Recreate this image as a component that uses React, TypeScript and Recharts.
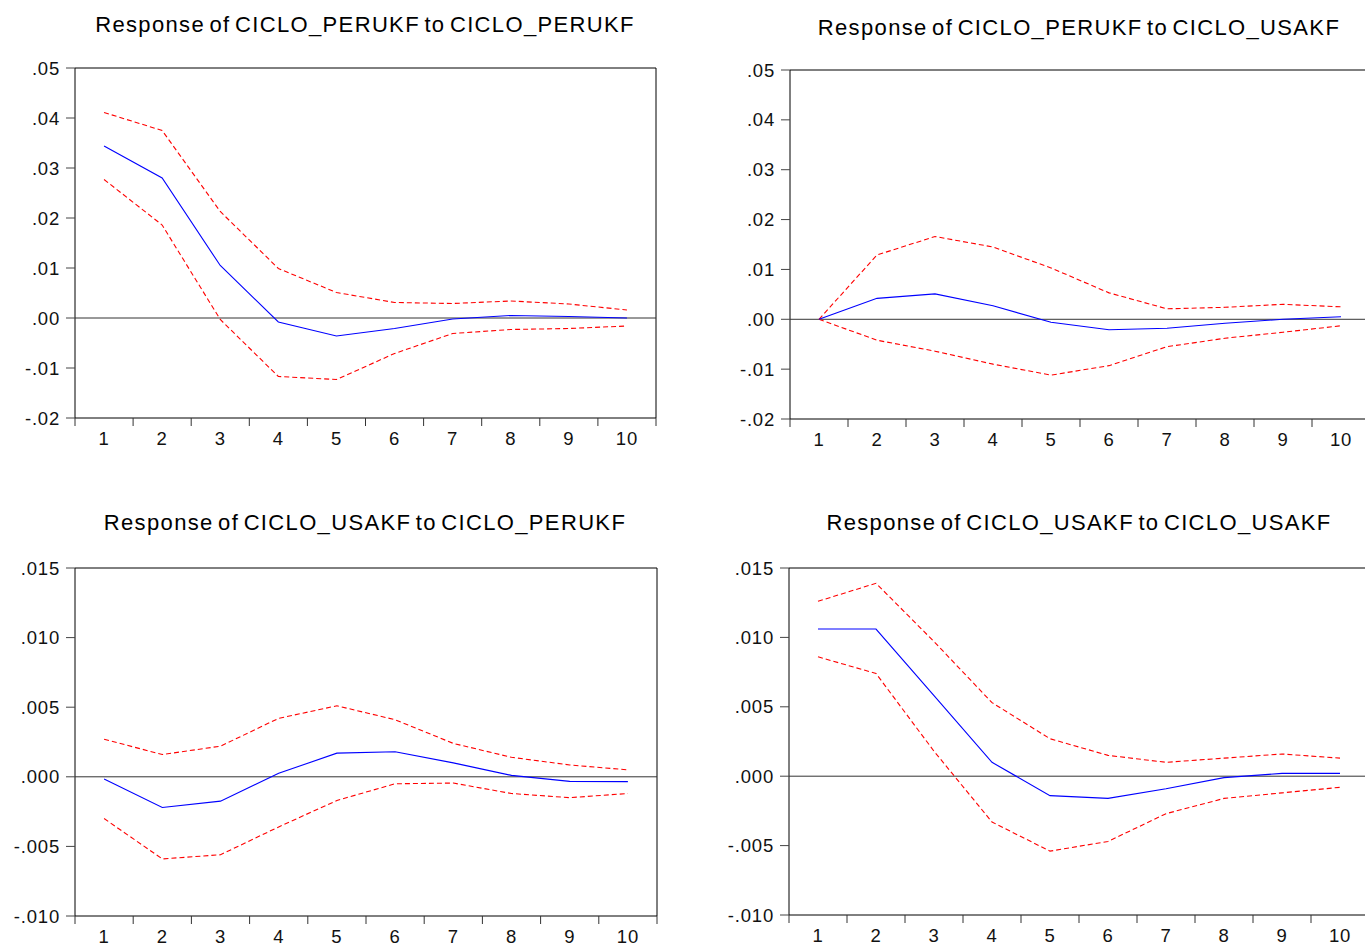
import React from "react";
import { LineChart, Line, XAxis, YAxis, ReferenceLine, ReferenceArea } from "recharts";

// ---------- data ----------
const horizons = [1, 2, 3, 4, 5, 6, 7, 8, 9, 10];

const perPerMid = [0.0344, 0.028, 0.0105, -0.0008, -0.0036, -0.0021, -0.0002, 0.0005, 0.0003, 0.0];
const perPerUp = [0.0411, 0.0375, 0.0213, 0.0099, 0.0051, 0.0031, 0.0029, 0.0034, 0.0028, 0.0016];
const perPerLo = [0.0277, 0.0186, -0.0003, -0.0117, -0.0123, -0.0071, -0.0031, -0.0023, -0.0021, -0.0016];

const perUsaMid = [0.0, 0.0042, 0.0051, 0.0027, -0.0006, -0.0021, -0.0018, -0.0008, 0.0, 0.0005];
const perUsaUp = [0.0, 0.0129, 0.0166, 0.0145, 0.0103, 0.0053, 0.0021, 0.0024, 0.003, 0.0025];
const perUsaLo = [0.0, -0.0042, -0.0064, -0.009, -0.0112, -0.0093, -0.0055, -0.0038, -0.0026, -0.0013];

const usaPerMid = [-0.00015, -0.0022, -0.00175, 0.00025, 0.0017, 0.0018, 0.001, 0.0001, -0.00033, -0.00035];
const usaPerUp = [0.0027, 0.0016, 0.0022, 0.0042, 0.0051, 0.0041, 0.0024, 0.0014, 0.00085, 0.0005];
const usaPerLo = [-0.003, -0.0059, -0.0056, -0.0036, -0.0017, -0.0005, -0.00045, -0.0012, -0.0015, -0.0012];

const usaUsaMid = [0.0106, 0.0106, 0.0058, 0.001, -0.0014, -0.0016, -0.0009, -0.0001, 0.0002, 0.0002];
const usaUsaUp = [0.0126, 0.0139, 0.0097, 0.0053, 0.0027, 0.0015, 0.001, 0.0013, 0.0016, 0.0013];
const usaUsaLo = [0.0086, 0.0074, 0.0018, -0.0033, -0.0054, -0.0047, -0.0027, -0.0016, -0.0012, -0.0008];

const yTicksTop = [-0.02, -0.01, 0, 0.01, 0.02, 0.03, 0.04, 0.05];
const yLabelsTop = ["-.02", "-.01", ".00", ".01", ".02", ".03", ".04", ".05"];
const yTicksBottom = [-0.01, -0.005, 0, 0.005, 0.01, 0.015];
const yLabelsBottom = ["-.010", "-.005", ".000", ".005", ".010", ".015"];

const titles = [
  "Response of CICLO_PERUKF to CICLO_PERUKF",
  "Response of CICLO_PERUKF to CICLO_USAKF",
  "Response of CICLO_USAKF to CICLO_PERUKF",
  "Response of CICLO_USAKF to CICLO_USAKF",
];

// ---------- layout ----------
const FONT = "'Liberation Sans', Arial, Helvetica, sans-serif";
const M_TOP = 68;
const Y_W = 75;
const M_RIGHT = 24;
const X_H = 34;
const TICK_FS = 18.5;

type PanelProps = {
  mid: number[];
  up: number[];
  lo: number[];
  ticks: number[];
  labels: string[];
  plotLeft: number;
  plotTop: number;
  plotW: number;
  plotH: number;
};

function buildRows(mid: number[], up: number[], lo: number[]) {
  return horizons.map((h, i) => ({ h, mid: mid[i], up: up[i], lo: lo[i] }));
}

function Panel({ mid, up, lo, ticks, labels, plotLeft, plotTop, plotW, plotH }: PanelProps) {
  const rows = buildRows(mid, up, lo);
  const half = plotW / horizons.length / 2;
  const pb = M_TOP + plotH;
  const lastH = horizons[horizons.length - 1];
  const fmt = (v: number) => {
    const i = ticks.findIndex((t) => Math.abs(t - v) < 1e-9);
    return i >= 0 ? labels[i] : "";
  };
  const XTick = (p: any) => {
    const x = p.x;
    const v = p.payload.value;
    return (
      <g>
        <line x1={x - half} x2={x - half} y1={pb} y2={pb + 8} stroke="#333" strokeWidth={1} />
        {v === lastH ? (
          <line x1={x + half} x2={x + half} y1={pb} y2={pb + 8} stroke="#333" strokeWidth={1} />
        ) : null}
        <text
          x={x}
          y={pb + 14}
          dy="0.71em"
          textAnchor="middle"
          fontFamily={FONT}
          fontSize={TICK_FS}
          letterSpacing={0.8}
          fill="#111"
        >
          {v}
        </text>
      </g>
    );
  };
  const W = Y_W + plotW + M_RIGHT;
  const H = M_TOP + plotH + X_H;
  return (
    <div style={{ position: "absolute", left: plotLeft - Y_W, top: plotTop - M_TOP, width: W, height: H }}>
      <LineChart width={W} height={H} data={rows} margin={{ top: M_TOP, right: M_RIGHT, bottom: 0, left: 0 }}>
        <XAxis
          dataKey="h"
          type="number"
          domain={[0.5, 10.5]}
          ticks={horizons}
          interval={0}
          axisLine={false}
          tickLine={false}
          height={X_H}
          tick={<XTick />}
        />
        <YAxis
          type="number"
          domain={[ticks[0], ticks[ticks.length - 1]]}
          ticks={ticks}
          interval={0}
          width={Y_W}
          axisLine={false}
          tickSize={9}
          tickMargin={6}
          stroke="#444"
          tickFormatter={fmt}
          tick={{ fontFamily: FONT, fontSize: TICK_FS, fill: "#111", letterSpacing: 0.8 }}
        />
        <ReferenceLine y={0} stroke="#333" strokeWidth={1} />
        <Line type="linear" dataKey="up" stroke="#FF0000" strokeWidth={1.1} strokeDasharray="5 3" dot={false} isAnimationActive={false} />
        <Line type="linear" dataKey="lo" stroke="#FF0000" strokeWidth={1.1} strokeDasharray="5 3" dot={false} isAnimationActive={false} />
        <Line type="linear" dataKey="mid" stroke="#0000FF" strokeWidth={1.1} dot={false} isAnimationActive={false} />
        <ReferenceArea
          x1={0.5}
          x2={10.5}
          y1={ticks[0]}
          y2={ticks[ticks.length - 1]}
          fill="none"
          fillOpacity={0}
          stroke="#000"
          strokeWidth={1}
        />
      </LineChart>
    </div>
  );
}

export default function App() {
  return (
    <div
      style={{
        position: "fixed",
        left: 0,
        top: 0,
        width: 1365,
        height: 948,
        overflow: "hidden",
        background: "#fff",
      }}
    >
      <Panel mid={perPerMid} up={perPerUp} lo={perPerLo} ticks={yTicksTop} labels={yLabelsTop} plotLeft={75} plotTop={68} plotW={581} plotH={350} />
      <Panel mid={perUsaMid} up={perUsaUp} lo={perUsaLo} ticks={yTicksTop} labels={yLabelsTop} plotLeft={790} plotTop={70} plotW={580} plotH={349} />
      <Panel mid={usaPerMid} up={usaPerUp} lo={usaPerLo} ticks={yTicksBottom} labels={yLabelsBottom} plotLeft={75} plotTop={568} plotW={582} plotH={348} />
      <Panel mid={usaUsaMid} up={usaUsaUp} lo={usaUsaLo} ticks={yTicksBottom} labels={yLabelsBottom} plotLeft={789} plotTop={568} plotW={580} plotH={347} />
      <svg width={1365} height={948} style={{ position: "absolute", left: 0, top: 0, pointerEvents: "none" }}>
        {[
          [365, 32],
          [1079, 35],
          [365, 530],
          [1079, 530],
        ].map(([cx, by], i) => (
          <text
            key={i}
            x={cx}
            y={by}
            textAnchor="middle"
            fontFamily={FONT}
            fontSize={22}
            letterSpacing={1.35}
            wordSpacing={-3}
            fill="#000"
          >
            {titles[i]}
          </text>
        ))}
      </svg>
    </div>
  );
}
